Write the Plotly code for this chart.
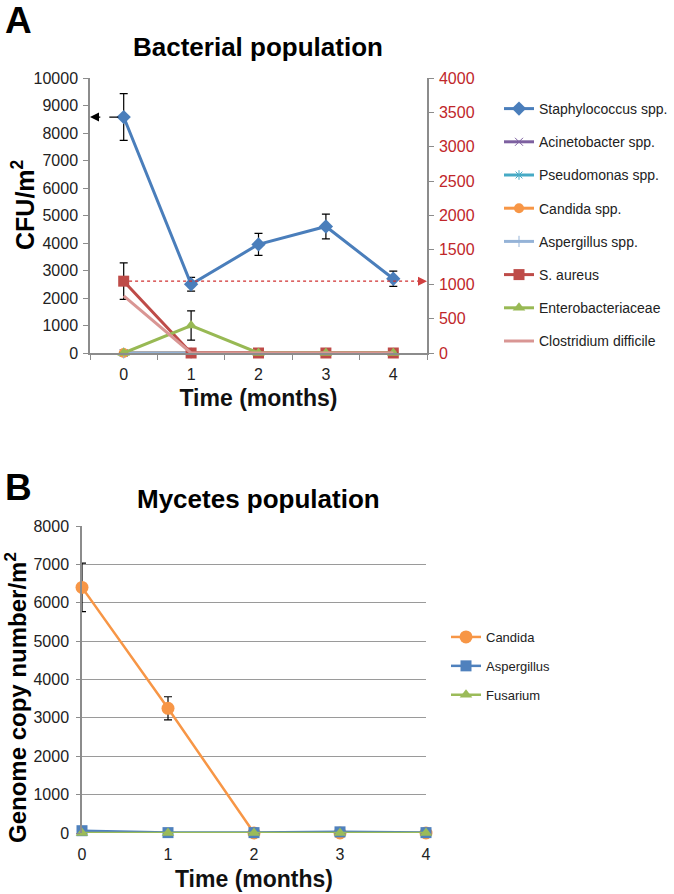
import plotly.graph_objects as go

W, H = 674, 894
FONT = "Liberation Sans, Arial, sans-serif"

# ---------------- Data: panel A ----------------
months = [0, 1, 2, 3, 4]
staph = [8580, 2500, 3950, 4600, 2700]
staph_err = [850, 250, 400, 450, 280]
acineto = [0, 0, 0, 0, 0]
pseudo = [0, 0, 0, 0, 0]
candida_a = [0, 0, 0, 0, 0]
asperg_a = [0, 0, None, None, None]
saureus = [1045, 0, 0, 0, 0]          # right axis units
saureus_err = [265, 0, 0, 0, 0]
entero = [0, 400, 0, 0, 0]            # right axis units
entero_err = [0, 212, 0, 0, 0]
clost = [830, 0, 0, 0, 0]             # right axis units

# ---------------- Data: panel B ----------------
candida_b = [6400, 3250, 0, 0, 0]
candida_b_err = [630, 300, 0, 0, 0]
asperg_b = [60, 10, 10, 30, 10]
fusarium = [0, 0, 0, 0, 0]

BLUE = "#4a7ebb"
PURPLE = "#7d60a0"
TEAL = "#46aac5"
ORANGE = "#f79646"
LBLUE = "#95b3d7"
RED = "#be4b48"
GREEN = "#98b954"
PINK = "#d99694"
BLUE2 = "#4f81bd"
GREEN2 = "#9bbb59"
AXC = "#8c8c8c"

fig = go.Figure()

def err(vals, color="black"):
    return dict(type="data", array=vals, visible=True, color=color, thickness=1.2, width=4)

def add(name, y, color, symbol, size, yaxis="y", xaxis="x", legend="legend", e=None, width=3, mode="lines+markers"):
    fig.add_trace(go.Scatter(
        x=months, y=y, name=name, mode=mode, xaxis=xaxis, yaxis=yaxis,
        line=dict(color=color, width=width),
        marker=dict(symbol=symbol, size=size, color=color),
        error_y=err(e) if e is not None else None,
        legend=legend, legendgroup=name, cliponaxis=False,
    ))

# Panel A traces
add("Staphylococcus spp.", staph, BLUE, "diamond", 11, e=staph_err)
add("Acinetobacter spp.", acineto, PURPLE, "x-thin-open", 8, yaxis="y2")
add("Pseudomonas spp.", pseudo, TEAL, "asterisk-open", 8, yaxis="y2")
add("Candida spp.", candida_a, ORANGE, "circle", 10, yaxis="y2")
add("Aspergillus spp.", asperg_a, LBLUE, "line-ns-open", 8, yaxis="y2")
add("S. aureus", saureus, RED, "square", 11, yaxis="y2", e=saureus_err)
add("Enterobacteriaceae", entero, GREEN, "triangle-up", 11, yaxis="y2", e=entero_err)
add("Clostridium difficile", clost, PINK, "circle", 1, yaxis="y2", mode="lines")

# Panel B traces
add("Candida", candida_b, ORANGE, "circle", 13, xaxis="x3", yaxis="y3", legend="legend2", e=candida_b_err, width=2.5)
add("Aspergillus", asperg_b, BLUE2, "square", 11, xaxis="x3", yaxis="y3", legend="legend2", width=2.5)
add("Fusarium", fusarium, GREEN2, "triangle-up", 11, xaxis="x3", yaxis="y3", legend="legend2", width=2.5)

tickfont = dict(family=FONT, size=16, color="#222")
titlefont = dict(family=FONT, size=23, color="#111")

fig.update_layout(
    width=W, height=H, margin=dict(l=0, r=0, t=0, b=0),
    paper_bgcolor="white", plot_bgcolor="white",
    font=dict(family=FONT, color="#222"),
    xaxis=dict(domain=[90 / W, 427 / W], anchor="y", range=[-0.5, 4.5], automargin=False,
               tickvals=months, ticks="", showline=True, linecolor=AXC, linewidth=1.5,
               minor=dict(ticks="outside", tick0=0.5, dtick=1, ticklen=5, tickcolor=AXC),
               showgrid=False, zeroline=False, tickfont=tickfont, ticklabelstandoff=6,
               title=dict(text="<b>Time (months)</b>", font=titlefont, standoff=8)),
    yaxis=dict(domain=[1 - 353 / H, 1 - 78 / H], anchor="x", range=[0, 10000], dtick=1000,
               tickformat="d", automargin=False, ticklabelstandoff=2,
               showline=True, linecolor=AXC, linewidth=1.5, ticks="outside", ticklen=5,
               tickcolor=AXC, showgrid=False, zeroline=False, tickfont=tickfont),
    yaxis2=dict(overlaying="y", side="right", anchor="x", range=[0, 4000], dtick=500,
                tickformat="d", automargin=False, ticklabelstandoff=2,
                showline=True, linecolor=AXC, linewidth=1.5, ticks="outside", ticklen=5,
                tickcolor=AXC, showgrid=False, zeroline=False,
                tickfont=dict(family=FONT, size=16, color="#c0262a")),
    xaxis3=dict(domain=[82 / W, 426 / W], anchor="y3", range=[0, 4], tickvals=months,
                automargin=False, ticklabelstandoff=10,
                ticks="", showline=False, showgrid=False, zeroline=False, tickfont=tickfont,
                title=dict(text="<b>Time (months)</b>", font=titlefont, standoff=8)),
    yaxis3=dict(domain=[1 - 833 / H, 1 - 526 / H], anchor="x3", range=[0, 8000], dtick=1000,
                tickformat="d", automargin=False, ticklabelstandoff=4,
                showline=True, linecolor=AXC, linewidth=1.5, ticks="outside", ticklen=4,
                tickcolor=AXC, showgrid=True, gridcolor="#9a9a9a", gridwidth=1,
                zeroline=False, tickfont=tickfont),
    legend=dict(x=499 / W, xanchor="left", y=1 - 93 / H, yanchor="top",
                font=dict(family=FONT, size=14, color="#222"), tracegroupgap=12,
                bgcolor="rgba(0,0,0,0)"),
    legend2=dict(x=446 / W, xanchor="left", y=1 - 622 / H, yanchor="top",
                 font=dict(family=FONT, size=13, color="#222"), tracegroupgap=9,
                 bgcolor="rgba(0,0,0,0)"),
    showlegend=True,
)

def label(text, px, py, size, angle=0):
    fig.add_annotation(text=text, x=px / W, y=1 - py / H, xref="paper", yref="paper",
                       xanchor="center", yanchor="middle", showarrow=False, textangle=angle,
                       font=dict(family=FONT, size=size, color="black"))

# Panel labels, titles and y-axis titles
label("<b>A</b>", 18, 20, 37)
label("<b>Bacterial population</b>", 258, 47, 26)
label("<b>B</b>", 18, 487, 37)
label("<b>Mycetes population</b>", 258, 499, 26)
label("<b>CFU/m<sup>2</sup></b>", 23, 205, 25, -90)
label("<b>Genome copy number/m<sup>2</sup></b>", 16, 698, 24, -90)

# Black dashed arrow from Staphylococcus at t=0 to left axis
fig.add_shape(type="line", xref="x", yref="y", x0=months[0] - 0.08, y0=staph[0], x1=-0.42, y1=staph[0],
              line=dict(color="black", width=1.3, dash="dash"))
fig.add_annotation(xref="x", yref="y", axref="x", ayref="y", x=-0.5, y=staph[0],
                   ax=-0.42, ay=staph[0], text="", showarrow=True, arrowhead=2,
                   arrowsize=1.2, arrowwidth=1.5, arrowcolor="black")

# Red dotted arrow from S. aureus at t=0 to right axis
fig.add_shape(type="line", xref="x", yref="y2", x0=months[0] + 0.08, y0=saureus[0], x1=4.4, y1=saureus[0],
              line=dict(color="#d03030", width=1.4, dash="dot"))
fig.add_annotation(xref="x", yref="y2", axref="x", ayref="y2", x=4.5, y=saureus[0],
                   ax=4.4, ay=saureus[0], text="", showarrow=True, arrowhead=2,
                   arrowsize=1.2, arrowwidth=1.5, arrowcolor="#d04040")

fig.write_html("out.html", config={"displayModeBar": False},
               post_script="document.body.style.margin='0';document.body.style.overflow='hidden';")
